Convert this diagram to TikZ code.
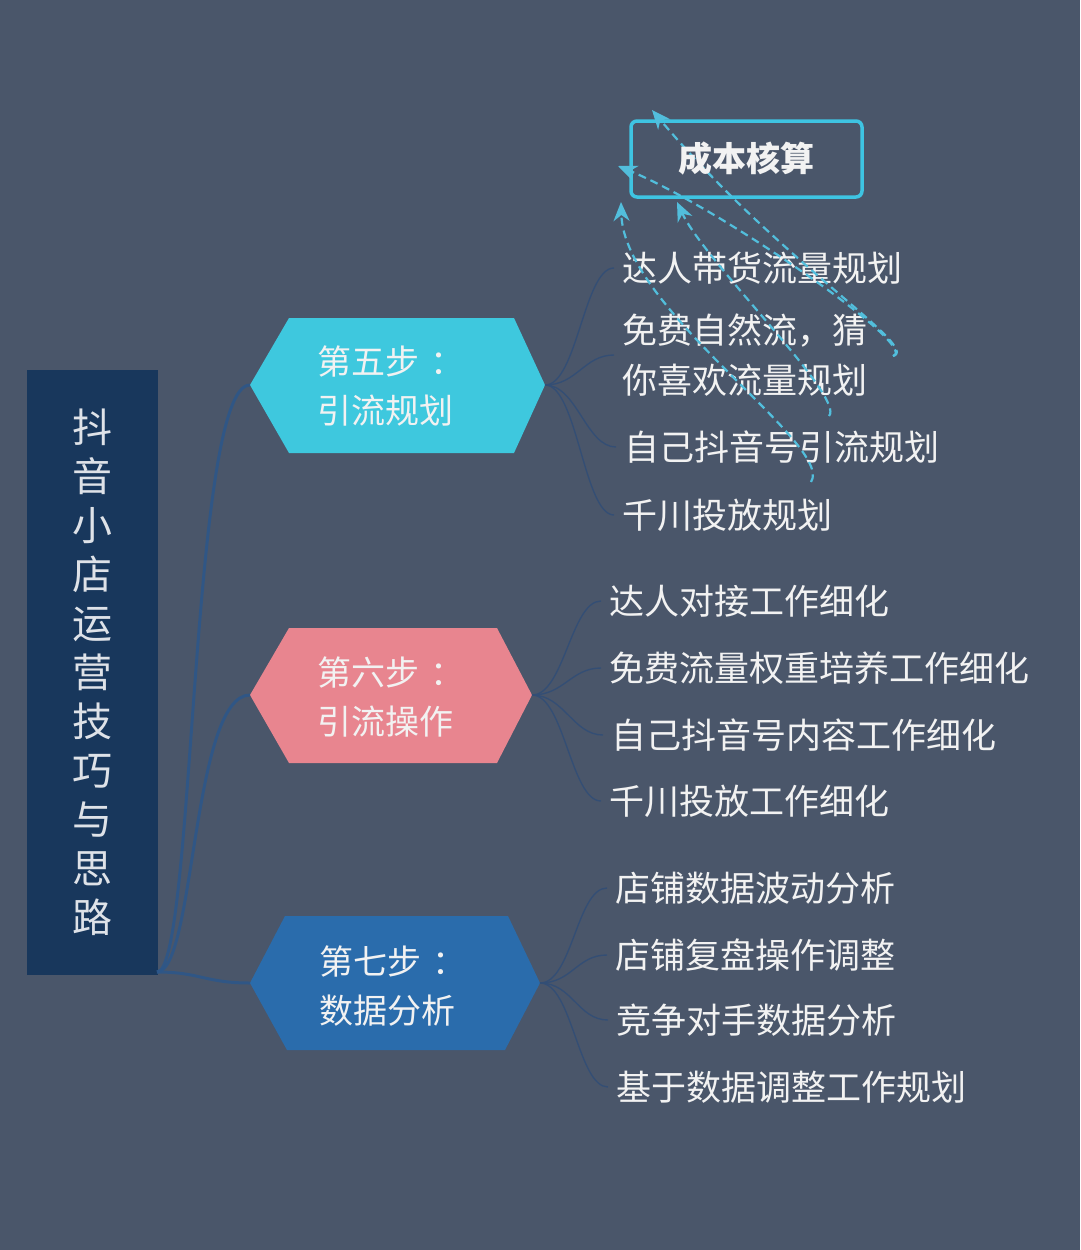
\documentclass[tikz,border=0pt]{standalone}
\usepackage{fontspec}
\setmainfont{Noto Sans CJK SC}
\usetikzlibrary{arrows.meta}
\definecolor{bgcol}{RGB}{74,86,106}
\definecolor{titlebg}{RGB}{24,55,92}
\definecolor{titletxt}{RGB}{222,226,232}
\definecolor{cfive}{RGB}{62,200,222}
\definecolor{csix}{RGB}{232,133,143}
\definecolor{cseven}{RGB}{42,108,172}
\definecolor{linkcol}{RGB}{44,86,138}
\definecolor{sublinkcol}{RGB}{50,78,118}
\definecolor{dashcol}{RGB}{82,190,220}
\definecolor{boxcol}{RGB}{62,196,226}
\definecolor{txtcol}{RGB}{242,242,242}
\tikzset{
  childtext/.style={anchor=west, text=txtcol, font=\fontsize{35}{50}\selectfont, inner sep=0pt, align=left},
  steptext/.style={text=txtcol, font=\fontsize{34}{49}\selectfont, inner sep=0pt, align=left},
  mainlink/.style={draw=linkcol, line width=3pt, opacity=0.85},
  sublink/.style={draw=sublinkcol, line width=1.4pt, opacity=0.9},
  relation/.style={draw=dashcol, line width=2.2pt, dash pattern=on 8pt off 5pt,
    -{Stealth[length=19pt,width=16pt,inset=6pt]}},
}
\begin{document}
\begin{tikzpicture}[x=1pt,y=-1pt]
\useasboundingbox (0,0) rectangle (1080,1250);
\fill[bgcol] (0,0) rectangle (1080,1250);

% title
\node[fill=titlebg, minimum width=131pt, minimum height=605pt, inner sep=0pt,
      text=titletxt, font=\fontsize{40}{49}\selectfont, align=center] (title) at (92,672.5)
  {抖\\音\\小\\店\\运\\营\\技\\巧\\与\\思\\路};
\coordinate (root) at (157,972);

% hexagons
\coordinate (s5w) at (250,385); \coordinate (s5e) at (545,385);
\fill[cfive] (s5w) -- (289,318) -- (514,318) -- (s5e) -- (514,453) -- (289,453) -- cycle;
\node[steptext] (s5) at (391,386) {第五步\kern0.3em：\\引流规划};

\coordinate (s6w) at (250,695); \coordinate (s6e) at (532,695);
\fill[csix] (s6w) -- (289,628) -- (497,628) -- (s6e) -- (497,763) -- (289,763) -- cycle;
\node[steptext] (s6) at (391,697) {第六步\kern0.3em：\\引流操作};

\coordinate (s7w) at (250,983); \coordinate (s7e) at (540,983);
\fill[cseven] (s7w) -- (285,916) -- (508,916) -- (s7e) -- (505,1050) -- (287,1050) -- cycle;
\node[steptext] (s7) at (393,986) {第七步\kern0.3em：\\数据分析};

% main links
\draw[mainlink] (root) .. controls (195,972) and (190,385) .. (s5w);
\draw[mainlink] (root) .. controls (195,972) and (192,695) .. (s6w);
\draw[mainlink] (root) .. controls (200,972) and (205,983) .. (s7w);

% children of step 5
\node[childtext] (n51) at (622,268) {达人带货流量规划};
\node[childtext] (n52) at (622,355) {免费自然流，猜\\你喜欢流量规划};
\node[childtext] (n53) at (624,447) {自己抖音号引流规划};
\node[childtext] (n54) at (622,515) {千川投放规划};
% children of step 6
\node[childtext] (n61) at (609,601) {达人对接工作细化};
\node[childtext] (n62) at (609,668) {免费流量权重培养工作细化};
\node[childtext] (n63) at (611,735) {自己抖音号内容工作细化};
\node[childtext] (n64) at (609,801) {千川投放工作细化};
% children of step 7
\node[childtext] (n71) at (615,888) {店铺数据波动分析};
\node[childtext] (n72) at (615,955) {店铺复盘操作调整};
\node[childtext] (n73) at (616,1020) {竞争对手数据分析};
\node[childtext] (n74) at (616,1087) {基于数据调整工作规划};

\foreach \c in {n51,n52,n53,n54}
  \draw[sublink] (s5e) .. controls +(32,0) and +(-30,0) .. ([xshift=-8pt]\c.west);
\foreach \c in {n61,n62,n63,n64}
  \draw[sublink] (s6e) .. controls +(32,0) and +(-30,0) .. ([xshift=-8pt]\c.west);
\foreach \c in {n71,n72,n73,n74}
  \draw[sublink] (s7e) .. controls +(32,0) and +(-30,0) .. ([xshift=-8pt]\c.west);

% cost box
\node[draw=boxcol, line width=3.5pt, rounded corners=6pt, fill=bgcol,
      minimum width=231pt, minimum height=76pt, inner sep=0pt] (cost) at (746.5,159) {};

% relation tails and heads
\coordinate (ta) at (893,356);
\coordinate (tc) at (811,482);
\coordinate (td) at (829,416);
\coordinate (ha) at (652,110);
\coordinate (hb) at (618,166);
\coordinate (hc) at (621,202);
\coordinate (hd) at (677,202);
\draw[relation] (ta) .. controls (922,348) and (780,262) .. (ha);
\draw[relation] (ta) .. controls (922,348) and (720,208) .. (hb);
\draw[relation] (tc) .. controls (835,445) and (624,310) .. (hc);
\draw[relation] (td) .. controls (846,398) and (705,262) .. (hd);

\node[text=txtcol, font=\bfseries\fontsize{34}{40}\selectfont, inner sep=0pt] (costtext) at (cost.center) {成本核算};
\end{tikzpicture}
\end{document}
